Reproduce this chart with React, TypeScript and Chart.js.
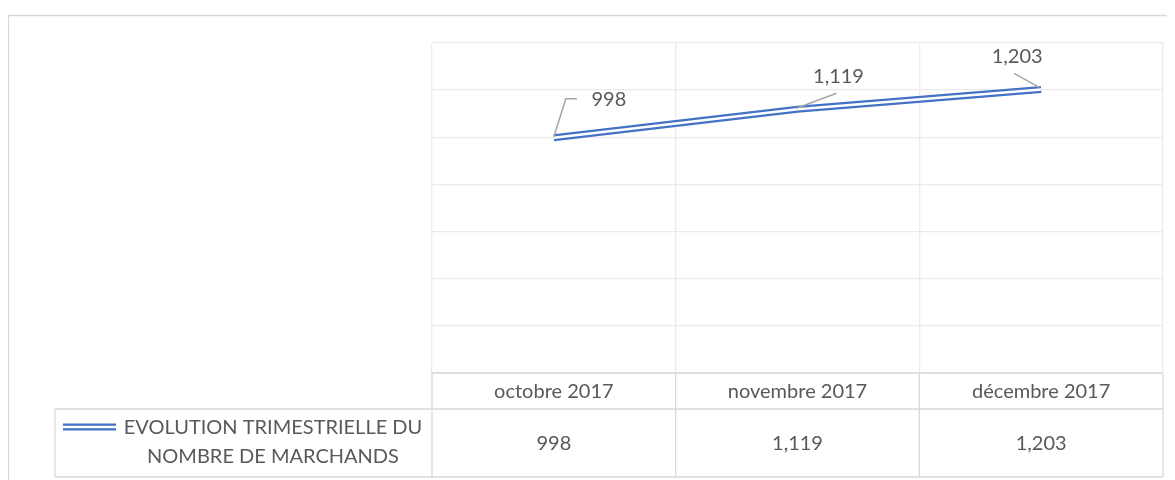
import React, { useEffect, useRef } from "react";
import { Chart, registerables } from "chart.js";

Chart.register(...registerables);

const categories = ["octobre 2017", "novembre 2017", "décembre 2017"];
const values = [998, 1119, 1203];
const seriesName = ["EVOLUTION TRIMESTRIELLE DU", "NOMBRE DE MARCHANDS"];
const yMin = 0;
const yMax = 1400;
const yStep = 200;

const FONT = "Lato, 'Open Sans', sans-serif";
const TEXT = "#595959";
const BLUE = "#4472C4";
const GRID = "#EBEBEB";
const TABLE = "#D9D9D9";

const fmt = (v: number) => v.toLocaleString("en-US");

// label placement relative to each point: leader path, text center
const labelLayout = [
  { path: [[0, -1], [12, -39], [23, -39]], text: [55, -38] },
  { path: [[-1, -1], [39, -16]], text: [41, -33] },
  { path: [[-2, -2], [-27, -16]], text: [-24, -33] },
];

const tablePlugin = {
  id: "tableAndLabels",
  beforeDraw(chart: any) {
    const ctx = chart.ctx;
    ctx.save();
    ctx.strokeStyle = TABLE;
    ctx.lineWidth = 1.3;
    ctx.beginPath();
    ctx.moveTo(0.5, chart.height + 5);
    ctx.lineTo(0.5, 7.5);
    ctx.lineTo(chart.width + 5, 7.5);
    ctx.stroke();
    ctx.restore();
  },
  afterDraw(chart: any) {
    const ctx = chart.ctx;
    const ca = chart.chartArea;
    const xs = chart.scales.x;
    const n = categories.length;
    const colW = (ca.right - ca.left) / n;
    const rowTop = ca.bottom;
    const row1 = rowTop + 36;
    const row2 = row1 + 68;
    const legendLeft = 47;

    ctx.save();
    ctx.strokeStyle = TABLE;
    ctx.lineWidth = 1.3;
    ctx.beginPath();
    ctx.moveTo(ca.left, rowTop);
    ctx.lineTo(ca.right, rowTop);
    ctx.moveTo(legendLeft, row1);
    ctx.lineTo(ca.right, row1);
    ctx.moveTo(legendLeft, row2);
    ctx.lineTo(ca.right, row2);
    ctx.moveTo(legendLeft, row1);
    ctx.lineTo(legendLeft, row2);
    for (let i = 0; i <= n; i++) {
      const x = ca.left + i * colW;
      ctx.moveTo(x, rowTop);
      ctx.lineTo(x, row2);
    }
    ctx.stroke();

    ctx.fillStyle = TEXT;
    ctx.font = `20px ${FONT}`;
    ctx.textAlign = "center";
    ctx.textBaseline = "middle";
    categories.forEach((c, i) => {
      const x = xs.getPixelForValue(i);
      ctx.fillText(c, x, (rowTop + row1) / 2 + 1);
      ctx.fillText(fmt(values[i]), x, (row1 + row2) / 2 + 1);
    });

    // legend cell
    const lx = 265;
    ctx.fillText(seriesName[0], lx, row1 + 19);
    ctx.fillText(seriesName[1], lx, row1 + 48);
    const sy = row1 + 18;
    ctx.fillStyle = BLUE;
    ctx.fillRect(55, sy - 3.5, 53, 7);
    ctx.fillStyle = "#FFFFFF";
    ctx.fillRect(55, sy - 1.2, 53, 2.4);

    // data labels
    const meta = chart.getDatasetMeta(0);
    ctx.strokeStyle = "#A6A6A6";
    ctx.lineWidth = 1.5;
    ctx.fillStyle = TEXT;
    ctx.font = `20px ${FONT}`;
    meta.data.forEach((pt: any, i: number) => {
      const L = labelLayout[i];
      ctx.beginPath();
      L.path.forEach((p, j) => {
        if (j === 0) ctx.moveTo(pt.x + p[0], pt.y + p[1]);
        else ctx.lineTo(pt.x + p[0], pt.y + p[1]);
      });
      ctx.stroke();
      ctx.fillText(fmt(values[i]), pt.x + L.text[0], pt.y + L.text[1]);
    });
    ctx.restore();
  },
};

export default function App() {
  const ref = useRef<HTMLCanvasElement | null>(null);
  useEffect(() => {
    if (!ref.current) return;
    const chart = new Chart(ref.current, {
      type: "line",
      data: {
        labels: categories,
        datasets: [
          {
            label: "inner",
            data: values,
            borderColor: "#FFFFFF",
            borderWidth: 2.4,
            borderCapStyle: "butt",
            pointRadius: 0,
            tension: 0,
          },
          {
            label: seriesName.join(" "),
            data: values,
            borderColor: BLUE,
            borderWidth: 7,
            borderCapStyle: "butt",
            pointRadius: 0,
            tension: 0,
          },
        ],
      },
      options: {
        animation: false,
        responsive: false,
        layout: { padding: { left: 424, right: 12, top: 35, bottom: 107 } },
        plugins: { legend: { display: false }, tooltip: { enabled: false } },
        scales: {
          x: {
            offset: true,
            grid: { offset: true, color: GRID, drawTicks: false, lineWidth: 1.3 },
            ticks: { display: false },
            border: { display: false },
          },
          y: {
            min: yMin,
            max: yMax,
            ticks: { display: false, stepSize: yStep },
            grid: { color: GRID, drawTicks: false, lineWidth: 1.3 },
            border: { display: false },
          },
        },
      },
      plugins: [tablePlugin],
    });
    return () => chart.destroy();
  }, []);
  return (
    <div style={{ width: 1167, height: 472 }}>
      <canvas ref={ref} width={1167} height={472} />
    </div>
  );
}
